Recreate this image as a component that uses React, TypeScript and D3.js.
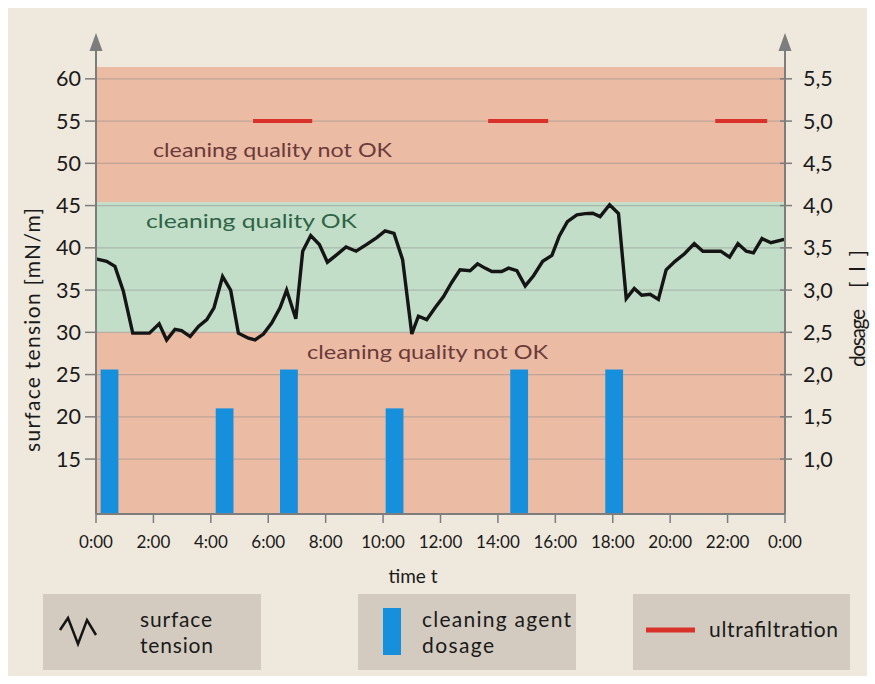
import React from "react";
import * as d3 from "d3";

// ---- data ----
const tensionTimes = [0, 0.37, 0.66, 0.95, 1.28, 1.86, 2.2, 2.46, 2.75, 2.98, 3.28, 3.57, 3.86, 4.11, 4.41, 4.69, 4.96, 5.31, 5.54, 5.83, 6.12, 6.41, 6.64, 6.96, 7.2, 7.48, 7.78, 8.06, 8.39, 8.71, 9.06, 9.43, 9.78, 10.07, 10.38, 10.68, 11.0, 11.23, 11.52, 11.81, 12.1, 12.39, 12.68, 13.03, 13.29, 13.55, 13.79, 14.13, 14.37, 14.66, 14.95, 15.24, 15.56, 15.88, 16.14, 16.42, 16.75, 17.04, 17.3, 17.56, 17.89, 18.2, 18.47, 18.75, 19.01, 19.3, 19.59, 19.86, 20.17, 20.5, 20.84, 21.14, 21.76, 22.07, 22.36, 22.65, 22.9, 23.2, 23.51, 23.97];
const tensionValues = [38.7, 38.4, 37.8, 34.9, 29.9, 29.9, 31.0, 29.1, 30.35, 30.2, 29.5, 30.7, 31.5, 32.9, 36.6, 35.0, 29.9, 29.3, 29.1, 29.8, 31.1, 32.9, 35.0, 31.6, 39.6, 41.45, 40.4, 38.3, 39.2, 40.1, 39.6, 40.4, 41.2, 42.0, 41.7, 38.6, 29.8, 31.9, 31.5, 32.9, 34.2, 35.9, 37.4, 37.3, 38.1, 37.6, 37.2, 37.2, 37.6, 37.3, 35.5, 36.7, 38.4, 39.1, 41.4, 43.1, 43.9, 44.05, 44.1, 43.7, 45.1, 44.05, 34.0, 35.2, 34.4, 34.5, 33.9, 37.4, 38.4, 39.3, 40.5, 39.6, 39.6, 38.9, 40.5, 39.6, 39.4, 41.1, 40.6, 41.0];

const dosageTimes = [0.47, 4.48, 6.72, 10.4, 14.74, 18.05];
const dosageValues = [2.06, 1.6, 2.06, 1.6, 2.06, 2.06];

const ufStart = [5.47, 13.66, 21.57];
const ufEnd = [7.53, 15.75, 23.38];
const ufLevel = 55;

const okLow = 30;
const okHigh = 45.4;
const yMin = 8.5;
const yMax = 61.4;

const leftTicks = [15, 20, 25, 30, 35, 40, 45, 50, 55, 60];
const rightTicks = [1.0, 1.5, 2.0, 2.5, 3.0, 3.5, 4.0, 4.5, 5.0, 5.5];
const timeTicks = [0, 2, 4, 6, 8, 10, 12, 14, 16, 18, 20, 22, 24];
const timeLabels = ["0:00", "2:00", "4:00", "6:00", "8:00", "10:00", "12:00", "14:00", "16:00", "18:00", "20:00", "22:00", "0:00"];

const FONT = "Lato, 'Open Sans', sans-serif";

export default function App() {
  const x0 = 96, x1 = 785, yTop = 67, yBot = 514;
  const x = d3.scaleLinear().domain([0, 24]).range([x0, x1]);
  const y = d3.scaleLinear().domain([yMin, yMax]).range([yBot, yTop]);
  const yR = d3.scaleLinear().domain([yMin / 10 - 0.5, yMax / 10 - 0.5]).range([yBot, yTop]);
  const barW = x(0.62) - x(0);

  const pts: [number, number][] = tensionTimes.map((t, i) => [t, tensionValues[i]]);
  const line = d3.line<[number, number]>().x(d => x(d[0])).y(d => y(d[1]));

  const axisCol = "#7d7d7d";
  const red = "#ecbba4";
  const green = "#c3dec8";
  const textCol = "#1a1a1a";

  const arrow = (ax: number) => `M${ax},33 L${ax - 6.5},51 L${ax + 6.5},51 Z`;

  return (
    <svg width={875} height={684} style={{ position: "absolute", left: 0, top: 0, display: "block" }} fontFamily={FONT}>
      <rect x={8} y={8} width={859} height={668} fill="#efe8dd" />
      {/* bands */}
      <rect x={x0} y={y(yMax)} width={x1 - x0} height={y(okHigh) - y(yMax)} fill={red} />
      <rect x={x0} y={y(okHigh)} width={x1 - x0} height={y(okLow) - y(okHigh)} fill={green} />
      <rect x={x0} y={y(okLow)} width={x1 - x0} height={y(yMin) - y(okLow)} fill={red} />
      {/* grid */}
      {leftTicks.map(v => (
        <line key={"g" + v} x1={x0} x2={x1} y1={y(v)} y2={y(v)} stroke="#8a8a8a" strokeOpacity={0.45} strokeWidth={1.2} />
      ))}
      {/* band labels */}
      <text x={153} y={157} fontSize={20} fill="#6b3a3a" textLength={239} lengthAdjust="spacingAndGlyphs">cleaning quality not OK</text>
      <text x={146} y={228} fontSize={20} fill="#2e6446" textLength={211} lengthAdjust="spacingAndGlyphs">cleaning quality OK</text>
      <text x={307} y={359} fontSize={20} fill="#6b3a3a" textLength={241} lengthAdjust="spacingAndGlyphs">cleaning quality not OK</text>
      {/* bars */}
      {dosageTimes.map((t, i) => (
        <rect key={"b" + i} x={x(t) - barW / 2} y={yR(dosageValues[i])} width={barW} height={yBot - yR(dosageValues[i])} fill="#1690dc" />
      ))}
      {/* ultrafiltration */}
      {ufStart.map((s, i) => (
        <line key={"u" + i} x1={x(s)} x2={x(ufEnd[i])} y1={y(ufLevel)} y2={y(ufLevel)} stroke="#d8322b" strokeWidth={4} />
      ))}
      {/* surface tension line */}
      <path d={line(pts) || ""} fill="none" stroke="#151515" strokeWidth={3.4} strokeLinejoin="miter" />
      {/* axes */}
      <line x1={x0} x2={x1} y1={yBot} y2={yBot} stroke={axisCol} strokeWidth={2} />
      <line x1={x0} x2={x0} y1={yBot} y2={48} stroke={axisCol} strokeWidth={2} />
      <line x1={x1} x2={x1} y1={yBot} y2={48} stroke={axisCol} strokeWidth={2} />
      <path d={arrow(x0)} fill={axisCol} />
      <path d={arrow(x1)} fill={axisCol} />
      {leftTicks.map(v => (
        <g key={"lt" + v}>
          <line x1={x0 - 11} x2={x0} y1={y(v)} y2={y(v)} stroke={axisCol} strokeWidth={1.5} />
          <text x={81} y={y(v) + 7.5} fontSize={21.5} textAnchor="end" fill={textCol}>{v}</text>
        </g>
      ))}
      {rightTicks.map(v => (
        <g key={"rt" + v}>
          <line x1={x1 - 5} x2={x1 + 7} y1={yR(v)} y2={yR(v)} stroke={axisCol} strokeWidth={1.5} />
          <text x={803} y={yR(v) + 7.5} fontSize={21.5} fill={textCol}>{v.toFixed(1).replace(".", ",")}</text>
        </g>
      ))}
      {timeTicks.map((t, i) => (
        <g key={"xt" + i}>
          <line x1={x(t)} x2={x(t)} y1={yBot} y2={yBot + 9} stroke={axisCol} strokeWidth={1.5} />
          <text x={x(t)} y={548} fontSize={17} textAnchor="middle" fill={textCol}>{timeLabels[i]}</text>
        </g>
      ))}
      <text x={413} y={583} fontSize={19} textAnchor="middle" fill={textCol}>time t</text>
      <text transform="translate(40,330) rotate(-90)" fontSize={21} textAnchor="middle" fill={textCol} textLength={244} lengthAdjust="spacing">surface tension [mN/m]</text>
      <g transform="translate(865,0) rotate(-90)">
        <text x={-367} y={0} fontSize={21} fill={textCol} textLength={58} lengthAdjust="spacing">dosage</text>
        <text x={-288} y={0} fontSize={21} fill={textCol} textLength={38} lengthAdjust="spacing">[ l ]</text>
      </g>
      {/* legend */}
      <rect x={43} y={594} width={218} height={76} fill="#d4cbc0" />
      <rect x={358} y={594} width={218} height={76} fill="#d4cbc0" />
      <rect x={633} y={594} width={217} height={76} fill="#d4cbc0" />
      <path d="M60,630 L68,618 L78,644 L87,620 L96,635" fill="none" stroke="#151515" strokeWidth={2.5} />
      <text x={140} y={627} fontSize={21} fill={textCol} textLength={72} lengthAdjust="spacing">surface</text>
      <text x={140} y={653} fontSize={21} fill={textCol} textLength={73} lengthAdjust="spacing">tension</text>
      <rect x={383} y={608} width={18} height={47} fill="#1690dc" />
      <text x={422} y={627} fontSize={21} fill={textCol} textLength={149} lengthAdjust="spacing">cleaning agent</text>
      <text x={422} y={653} fontSize={21} fill={textCol} textLength={72} lengthAdjust="spacing">dosage</text>
      <line x1={646} x2={695} y1={630} y2={630} stroke="#d8322b" strokeWidth={5} />
      <text x={709} y={637} fontSize={21} fill={textCol} textLength={129} lengthAdjust="spacing">ultrafiltration</text>
    </svg>
  );
}
